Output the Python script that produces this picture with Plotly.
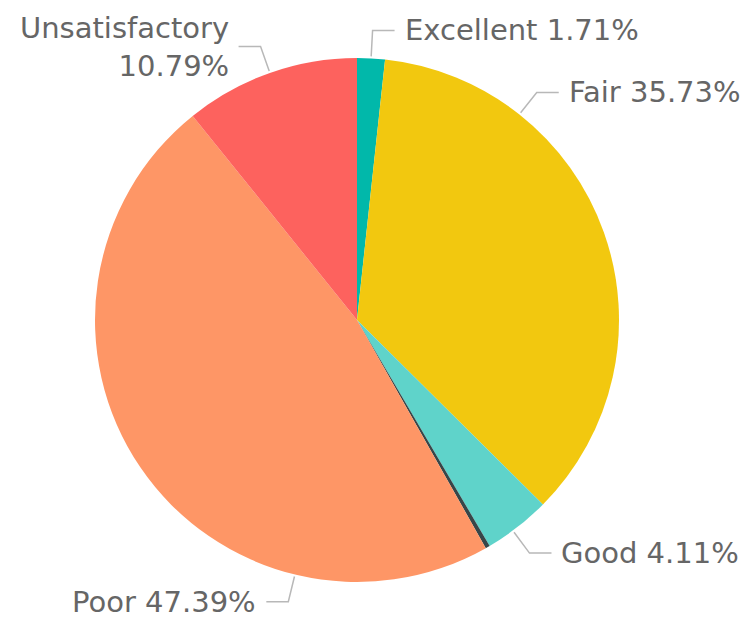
import math
import plotly.graph_objects as go

# Rating distribution (percent of total)
categories = ["Excellent", "Fair", "Good", "(Blank)", "Poor", "Unsatisfactory"]
shares = [1.71, 35.73, 4.11, 0.27, 47.39, 10.79]
colors = ["#01B8AA", "#F2C80F", "#5FD3CA", "#374649", "#FE9666", "#FD625E"]

# Which slices get an outside label, and where their leader line leaves the rim
labelled = ["Excellent", "Fair", "Good", "Poor", "Unsatisfactory"]
anchor_override_deg = {"Fair": 38.3, "Good": 143.5, "Poor": 193.7}
wrapped = {"Unsatisfactory"}

W, H = 748, 625
CX, CY, R = 357, 320, 262          # pie centre / radius in pixels
GAP, RADIAL, HORIZ, TEXT_GAP = 2, 28, 22, 8
FONT = dict(family="DejaVu Sans", size=29, color="#666666")
LINE_COLOR = "#b8b8b8"


def px(x, y):
    return x / W, 1 - y / H


fig = go.Figure(
    go.Pie(
        labels=categories,
        values=shares,
        sort=False,
        direction="clockwise",
        rotation=0,
        marker=dict(colors=colors, line=dict(width=0)),
        textinfo="none",
        hoverinfo="label+percent",
        showlegend=False,
        domain=dict(
            x=[(CX - R) / W, (CX + R) / W],
            y=[1 - (CY + R) / H, 1 - (CY - R) / H],
        ),
    )
)

total = sum(shares)
cum = 0.0
shapes, annotations = [], []
for name, v in zip(categories, shares):
    mid = (cum + v / 2) / total * 360
    cum += v
    if name not in labelled:
        continue
    ang = math.radians(anchor_override_deg.get(name, mid))
    dx, dy = math.sin(ang), -math.cos(ang)
    x0, y0 = CX + (R + GAP) * dx, CY + (R + GAP) * dy
    x1, y1 = CX + (R + RADIAL) * dx, CY + (R + RADIAL) * dy
    side = 1 if dx >= 0 else -1
    x2 = x1 + side * HORIZ
    p0, p1, p2 = px(x0, y0), px(x1, y1), px(x2, y1)
    shapes.append(dict(
        type="path", xref="paper", yref="paper",
        path=f"M {p0[0]},{p0[1]} L {p1[0]},{p1[1]} L {p2[0]},{p2[1]}",
        line=dict(color=LINE_COLOR, width=1.5),
    ))
    sep = "<br>" if name in wrapped else " "
    tx, ty = px(x2 + side * TEXT_GAP, y1)
    annotations.append(dict(
        x=tx, y=ty, xref="paper", yref="paper",
        text=f"{name}{sep}{v:.2f}%",
        showarrow=False,
        xanchor="left" if side > 0 else "right",
        yanchor="middle",
        align="left" if side > 0 else "right",
        font=FONT,
    ))

fig.update_layout(
    width=W, height=H,
    margin=dict(l=0, r=0, t=0, b=0),
    paper_bgcolor="white",
    plot_bgcolor="white",
    shapes=shapes,
    annotations=annotations,
)

fig.write_html("out.html")
